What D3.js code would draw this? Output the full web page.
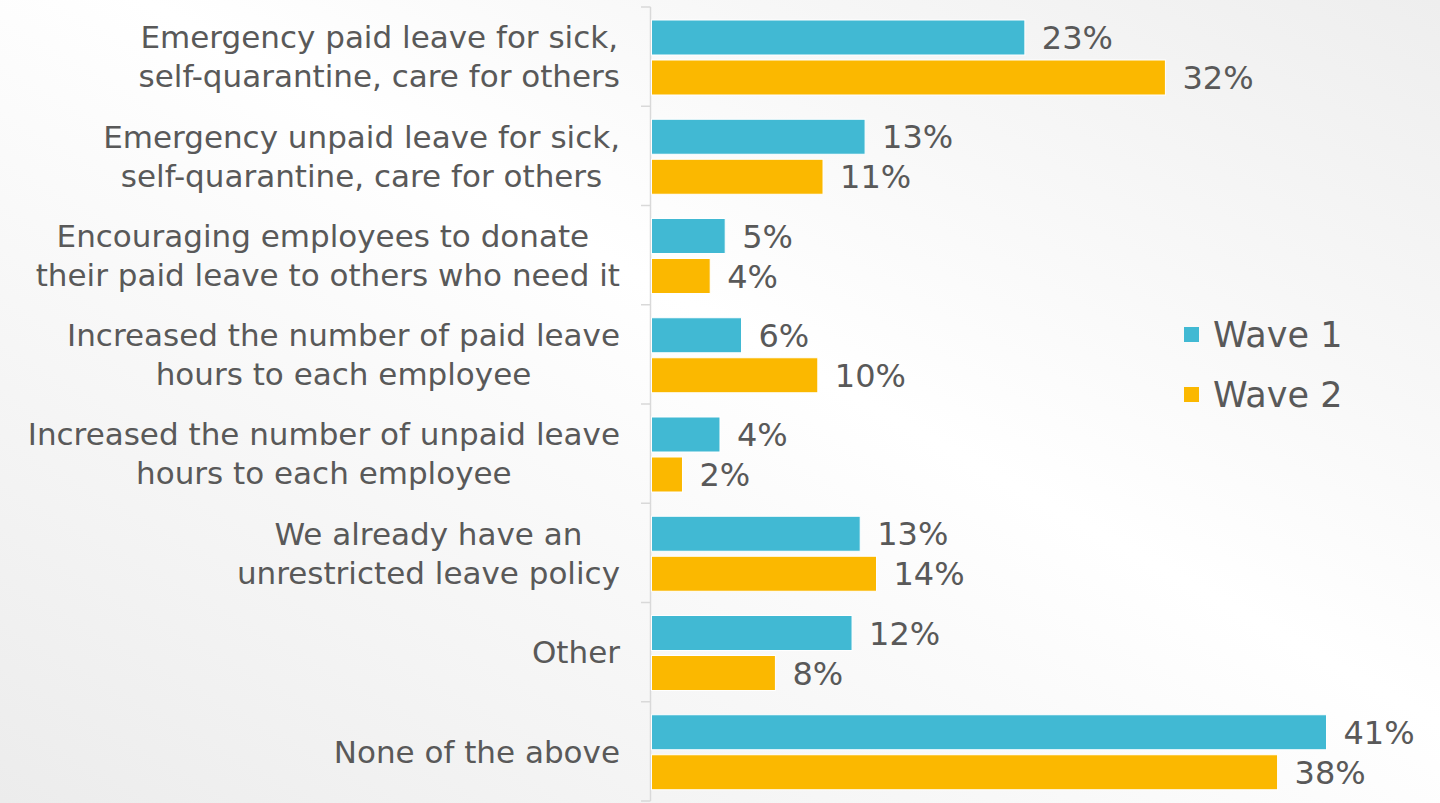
<!DOCTYPE html>
<meta charset="utf-8">
<style>
body { margin: 0; }
text { font-family: "DejaVu Sans", sans-serif; fill: #595959; }
.cat { font-size: 31px; }
.val { font-size: 32px; }
.legend text { font-size: 35px; }
.axis line { stroke: #d9d9d9; stroke-width: 1.5px; }
</style>
<body>
<script src="https://d3js.org/d3.v7.min.js"></script>
<script>

const width = 1440;
const height = 803;

const categories = [
  ["Emergency paid leave for sick,", "self-quarantine, care for others"],
  ["Emergency unpaid leave for sick,", "self-quarantine, care for others "],
  ["Encouraging employees to donate ", "their paid leave to others who need it"],
  ["Increased the number of paid leave", "hours to each employee"],
  ["Increased the number of unpaid leave", "hours to each employee"],
  ["We already have an", "unrestricted leave policy"],
  ["Other"],
  ["None of the above"]
];
const series = ["Wave 1", "Wave 2"];
const wave1 = [22.9, 13.1, 4.52, 5.52, 4.2, 12.8, 12.3, 41.4];
const wave2 = [31.52, 10.52, 3.6, 10.2, 1.9, 13.8, 7.6, 38.4];
const colors = ["#41b9d3", "#fbb800"];

const catKeys = categories.map(d => d.join(" "));

const svg = d3.select("body").append("svg")
    .attr("width", width)
    .attr("height", height);

// soft slide background
const grad = svg.append("defs").append("linearGradient")
    .attr("id", "bg")
    .attr("x1", "100%").attr("y1", "0%")
    .attr("x2", "0%").attr("y2", "100%");
grad.append("stop").attr("offset", "0%").attr("stop-color", "#eeeeee");
grad.append("stop").attr("offset", "45%").attr("stop-color", "#ffffff");
grad.append("stop").attr("offset", "100%").attr("stop-color", "#ececec");
svg.append("rect").attr("width", width).attr("height", height).attr("fill", "url(#bg)");

const x0 = 651.5;
const x = d3.scaleLinear().domain([0, 41.4]).range([x0, x0 + 675]);
const y = d3.scaleBand().domain(catKeys).range([7, 801]);
const yInner = d3.scaleBand().domain(series).range([13, 88]).paddingInner(0.125);

// axis line with ticks between categories
const axis = svg.append("g").attr("class", "axis");
axis.append("line")
    .attr("x1", 650.5).attr("x2", 650.5)
    .attr("y1", y.range()[0]).attr("y2", y.range()[1]);
axis.selectAll(".tick")
    .data(catKeys.map(k => y(k)).concat([y.range()[1]]))
  .enter().append("line")
    .attr("x1", 641).attr("x2", 650.5)
    .attr("y1", d => d).attr("y2", d => d);

const rows = categories.map((c, i) => ({key: catKeys[i], lines: c, values: [wave1[i], wave2[i]]}));

const group = svg.selectAll(".row")
    .data(rows)
  .enter().append("g")
    .attr("class", "row")
    .attr("transform", d => `translate(0,${y(d.key)})`);

group.selectAll("rect")
    .data(d => d.values.map((v, j) => ({v, s: series[j], j})))
  .enter().append("rect")
    .attr("x", x0)
    .attr("y", d => yInner(d.s))
    .attr("width", d => x(d.v) - x0)
    .attr("height", yInner.bandwidth())
    .attr("fill", d => colors[d.j])
    .attr("stroke", "#fff")
    .attr("stroke-width", 1);

group.selectAll(".val")
    .data(d => d.values.map((v, j) => ({v, s: series[j]})))
  .enter().append("text")
    .attr("class", "val")
    .attr("x", d => x(d.v) + 17)
    .attr("y", d => yInner(d.s) + yInner.bandwidth() / 2)
    .attr("dy", "0.36em")
    .text(d => Math.round(d.v) + "%");

// category labels: centred block, right edge at 620
const lineH = 39;
group.each(function(d) {
  const g = d3.select(this);
  const t = g.append("text").attr("class", "cat").attr("text-anchor", "middle");
  const spans = d.lines.map((l, k) => t.append("tspan")
      .attr("y", y.bandwidth() / 2 + (k - (d.lines.length - 1) / 2) * lineH)
      .attr("dy", "0.36em")
      .text(l));
  const maxW = d3.max(spans, s => s.node().getComputedTextLength());
  spans.forEach(s => s.attr("x", 620 - maxW / 2));
});

const legend = svg.append("g").attr("class", "legend");
series.forEach((s, j) => {
  const ly = 334 + j * 60;
  legend.append("rect")
      .attr("x", 1184).attr("y", ly - 7)
      .attr("width", 15).attr("height", 15)
      .attr("fill", colors[j]);
  legend.append("text")
      .attr("x", 1213).attr("y", ly)
      .attr("dy", "0.36em")
      .text(s);
});

</script>
</body>
